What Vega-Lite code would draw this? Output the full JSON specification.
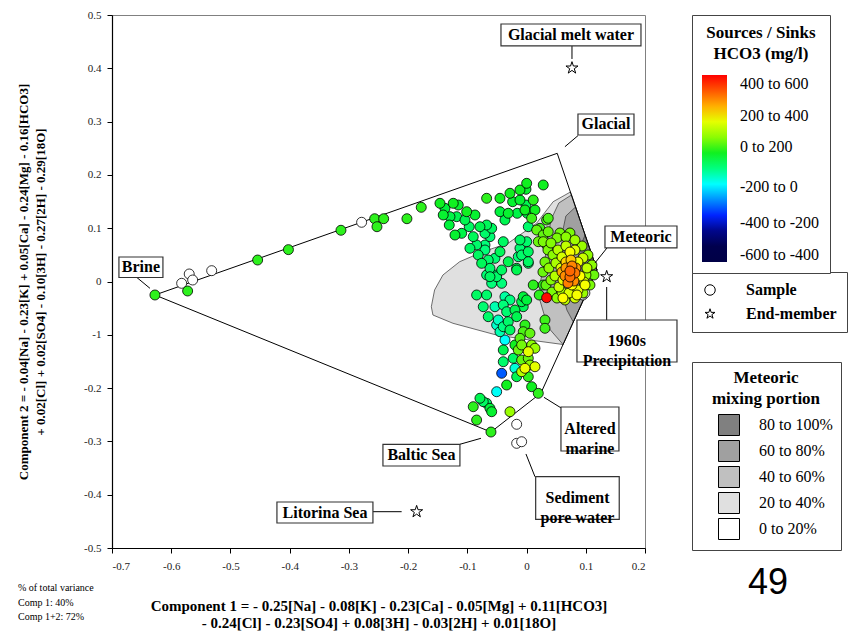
{
"$schema": "https://vega.github.io/schema/vega-lite/v6.json",
"width": 533, "height": 533,
"autosize": {"type": "none"},
"padding": {"left": 112, "top": 15, "right": 222, "bottom": 89},
"background": "white",
"config": {
  "view": {"stroke": "#808080", "strokeWidth": 1},
  "font": "Liberation Serif",
  "axis": {"grid": false, "domainColor": "black", "domainWidth": 1.2, "tickColor": "black", "tickSize": 5, "labelFont": "Liberation Serif", "labelFontSize": 11, "labelColor": "#222", "titleFont": "Liberation Serif", "titleFontWeight": "bold", "titleColor": "black"},
  "legend": {"labelFont": "Liberation Serif", "labelColor": "black", "titleFont": "Liberation Serif", "titleColor": "black", "titleFontWeight": "bold"}
},
"datasets": {
  "zones": [
    {"zone":"20 to 40%","i":0,"x":0.0741,"y":0.1679},{"zone":"20 to 40%","i":1,"x":0.0449,"y":0.1497},{"zone":"20 to 40%","i":2,"x":0.0168,"y":0.1092},{"zone":"20 to 40%","i":3,"x":-0.0312,"y":0.0717},{"zone":"20 to 40%","i":4,"x":-0.0735,"y":0.0559},{"zone":"20 to 40%","i":5,"x":-0.1130,"y":0.0371},{"zone":"20 to 40%","i":6,"x":-0.1412,"y":0.0122},{"zone":"20 to 40%","i":7,"x":-0.1553,"y":-0.0159},{"zone":"20 to 40%","i":8,"x":-0.1608,"y":-0.0473},{"zone":"20 to 40%","i":9,"x":-0.1581,"y":-0.0629},{"zone":"20 to 40%","i":10,"x":-0.1243,"y":-0.0784},{"zone":"20 to 40%","i":11,"x":-0.0509,"y":-0.1004},{"zone":"20 to 40%","i":12,"x":0.0055,"y":-0.1098},{"zone":"20 to 40%","i":13,"x":0.0616,"y":-0.1182},{"zone":"20 to 40%","i":14,"x":0.1189,"y":0.0216},{"zone":"20 to 40%","i":15,"x":0.0741,"y":0.1679},
    {"zone":"40 to 60%","i":0,"x":0.0758,"y":0.1623},{"zone":"40 to 60%","i":1,"x":0.0545,"y":0.1473},{"zone":"40 to 60%","i":2,"x":0.0410,"y":0.1154},{"zone":"40 to 60%","i":3,"x":0.0359,"y":0.0779},{"zone":"40 to 60%","i":4,"x":0.0308,"y":0.0403},{"zone":"40 to 60%","i":5,"x":0.0224,"y":-0.0066},{"zone":"40 to 60%","i":6,"x":0.0224,"y":-0.0347},{"zone":"40 to 60%","i":7,"x":0.0359,"y":-0.0854},{"zone":"40 to 60%","i":8,"x":0.0616,"y":-0.1182},{"zone":"40 to 60%","i":9,"x":0.1189,"y":0.0216},{"zone":"40 to 60%","i":10,"x":0.0758,"y":0.1623},
    {"zone":"60 to 80%","i":0,"x":0.0827,"y":0.1398},{"zone":"60 to 80%","i":1,"x":0.0664,"y":0.1229},{"zone":"60 to 80%","i":2,"x":0.0596,"y":0.0872},{"zone":"60 to 80%","i":3,"x":0.0596,"y":0.0310},{"zone":"60 to 80%","i":4,"x":0.0613,"y":-0.0253},{"zone":"60 to 80%","i":5,"x":0.0681,"y":-0.0535},{"zone":"60 to 80%","i":6,"x":0.0789,"y":-0.0760},{"zone":"60 to 80%","i":7,"x":0.1189,"y":0.0216},{"zone":"60 to 80%","i":8,"x":0.0827,"y":0.1398},
    {"zone":"80 to 100%","i":0,"x":0.0988,"y":0.0872},{"zone":"80 to 100%","i":1,"x":0.0884,"y":0.0591},{"zone":"80 to 100%","i":2,"x":0.0867,"y":0.0216},{"zone":"80 to 100%","i":3,"x":0.0901,"y":-0.0122},{"zone":"80 to 100%","i":4,"x":0.1020,"y":-0.0197},{"zone":"80 to 100%","i":5,"x":0.1189,"y":0.0216},{"zone":"80 to 100%","i":6,"x":0.0988,"y":0.0872}
  ],
  "outline": [
    {"i":0,"x":-0.6275,"y":-0.0253,"kind":"Sample"},{"i":1,"x":0.0518,"y":0.2405,"kind":"Sample"},{"i":2,"x":0.1189,"y":0.0216,"kind":"Sample"},{"i":3,"x":0.0243,"y":-0.2092,"kind":"Sample"},{"i":4,"x":-0.0601,"y":-0.2824,"kind":"Sample"},{"i":5,"x":-0.6275,"y":-0.0253,"kind":"Sample"}
  ],
  "white": [
    {"x":-0.5824,"y":-0.0034,"kind":"Sample"},{"x":-0.5696,"y":0.0141,"kind":"Sample"},{"x":-0.5638,"y":0.0028,"kind":"Sample"},{"x":-0.5317,"y":0.0203,"kind":"Sample"},{"x":-0.2785,"y":0.1111,"kind":"Sample"},{"x":-0.0167,"y":-0.2679,"kind":"Sample"},{"x":-0.0167,"y":-0.3036,"kind":"Sample"},{"x":-0.0083,"y":-0.3006,"kind":"Sample"},{"x":0.0952,"y":-0.0253,"kind":"Sample"},{"x":0.0985,"y":-0.0216,"kind":"Sample"}
  ],
  "samples": [
    {"x":-0.6275,"y":-0.0253,"hco3":110,"kind":"Sample"},{"x":-0.5723,"y":-0.0178,"hco3":110,"kind":"Sample"},{"x":-0.4541,"y":0.0403,"hco3":110,"kind":"Sample"},{"x":-0.4021,"y":0.0598,"hco3":110,"kind":"Sample"},{"x":-0.3134,"y":0.0961,"hco3":110,"kind":"Sample"},{"x":-0.2565,"y":0.1178,"hco3":110,"kind":"Sample"},{"x":-0.2413,"y":0.1178,"hco3":110,"kind":"Sample"},{"x":-0.2526,"y":0.1028,"hco3":110,"kind":"Sample"},{"x":-0.2020,"y":0.1178,"hco3":110,"kind":"Sample"},{"x":-0.1778,"y":0.1392,"hco3":110,"kind":"Sample"},
    {"x":-0.1462,"y":0.1467,"hco3":100,"kind":"Sample"},{"x":-0.1378,"y":0.1373,"hco3":80,"kind":"Sample"},{"x":-0.1407,"y":0.1248,"hco3":90,"kind":"Sample"},{"x":-0.1238,"y":0.1467,"hco3":100,"kind":"Sample"},{"x":-0.1153,"y":0.1435,"hco3":90,"kind":"Sample"},{"x":-0.1293,"y":0.1216,"hco3":70,"kind":"Sample"},{"x":-0.1305,"y":0.1060,"hco3":80,"kind":"Sample"},{"x":-0.1180,"y":0.1216,"hco3":60,"kind":"Sample"},{"x":-0.1209,"y":0.0872,"hco3":90,"kind":"Sample"},{"x":-0.1096,"y":0.0904,"hco3":70,"kind":"Sample"},
    {"x":-0.1011,"y":0.1310,"hco3":100,"kind":"Sample"},{"x":-0.1040,"y":0.1154,"hco3":60,"kind":"Sample"},{"x":-0.0871,"y":0.1248,"hco3":90,"kind":"Sample"},{"x":-0.0968,"y":0.1028,"hco3":40,"kind":"Sample"},{"x":-0.0900,"y":0.0841,"hco3":50,"kind":"Sample"},{"x":-0.0956,"y":0.0623,"hco3":40,"kind":"Sample"},{"x":-0.0843,"y":0.0685,"hco3":30,"kind":"Sample"},{"x":-0.0787,"y":0.1028,"hco3":60,"kind":"Sample"},{"x":-0.0674,"y":0.1060,"hco3":50,"kind":"Sample"},{"x":-0.0702,"y":0.0904,"hco3":30,"kind":"Sample"},
    {"x":-0.0589,"y":0.0998,"hco3":40,"kind":"Sample"},{"x":-0.0674,"y":0.1561,"hco3":110,"kind":"Sample"},{"x":-0.0702,"y":0.0685,"hco3":10,"kind":"Sample"},{"x":-0.0618,"y":0.0841,"hco3":20,"kind":"Sample"},{"x":-0.0816,"y":0.0497,"hco3":40,"kind":"Sample"},{"x":-0.0702,"y":0.0591,"hco3":10,"kind":"Sample"},{"x":-0.0647,"y":0.0403,"hco3":30,"kind":"Sample"},{"x":-0.0758,"y":0.0341,"hco3":50,"kind":"Sample"},{"x":-0.0618,"y":0.0248,"hco3":30,"kind":"Sample"},{"x":-0.0534,"y":0.0435,"hco3":20,"kind":"Sample"},
    {"x":-0.0449,"y":0.1561,"hco3":100,"kind":"Sample"},{"x":-0.0449,"y":0.1310,"hco3":80,"kind":"Sample"},{"x":-0.0309,"y":0.1280,"hco3":90,"kind":"Sample"},{"x":-0.0365,"y":0.1154,"hco3":60,"kind":"Sample"},{"x":-0.0280,"y":0.1655,"hco3":100,"kind":"Sample"},{"x":-0.0235,"y":0.1497,"hco3":90,"kind":"Sample"},{"x":-0.0111,"y":0.1717,"hco3":100,"kind":"Sample"},{"x":-0.0111,"y":0.1529,"hco3":90,"kind":"Sample"},{"x":0.0002,"y":0.1842,"hco3":100,"kind":"Sample"},{"x":-0.0010,"y":0.1730,"hco3":90,"kind":"Sample"},
    {"x":0.0113,"y":0.1529,"hco3":110,"kind":"Sample"},{"x":-0.0010,"y":0.1435,"hco3":60,"kind":"Sample"},{"x":-0.0157,"y":0.1280,"hco3":70,"kind":"Sample"},{"x":0.0282,"y":0.1811,"hco3":100,"kind":"Sample"},{"x":0.0012,"y":0.1280,"hco3":60,"kind":"Sample"},{"x":0.0086,"y":0.1186,"hco3":120,"kind":"Sample"},{"x":0.0029,"y":0.1028,"hco3":30,"kind":"Sample"},{"x":0.0171,"y":0.0966,"hco3":150,"kind":"Sample"},{"x":0.0339,"y":0.1154,"hco3":130,"kind":"Sample"},{"x":0.0282,"y":0.0872,"hco3":150,"kind":"Sample"},
    {"x":0.0366,"y":0.0934,"hco3":160,"kind":"Sample"},{"x":-0.0111,"y":0.0779,"hco3":40,"kind":"Sample"},{"x":0.0002,"y":0.0747,"hco3":30,"kind":"Sample"},{"x":-0.0111,"y":0.0623,"hco3":20,"kind":"Sample"},{"x":-0.0140,"y":0.0465,"hco3":10,"kind":"Sample"},{"x":-0.0083,"y":0.0497,"hco3":30,"kind":"Sample"},{"x":0.0029,"y":0.0341,"hco3":40,"kind":"Sample"},{"x":-0.0393,"y":0.0747,"hco3":40,"kind":"Sample"},{"x":-0.0449,"y":0.0559,"hco3":50,"kind":"Sample"},{"x":-0.0309,"y":0.0371,"hco3":60,"kind":"Sample"},
    {"x":-0.0167,"y":0.0248,"hco3":60,"kind":"Sample"},{"x":-0.0420,"y":0.0216,"hco3":40,"kind":"Sample"},{"x":-0.0618,"y":0.0090,"hco3":40,"kind":"Sample"},{"x":-0.0505,"y":0.0090,"hco3":30,"kind":"Sample"},{"x":0.0282,"y":0.0747,"hco3":180,"kind":"Sample"},{"x":0.0339,"y":0.0685,"hco3":170,"kind":"Sample"},{"x":0.0198,"y":0.0747,"hco3":160,"kind":"Sample"},{"x":-0.0027,"y":0.1342,"hco3":100,"kind":"Sample"},{"x":0.0142,"y":0.1342,"hco3":100,"kind":"Sample"},{"x":0.0366,"y":0.1186,"hco3":130,"kind":"Sample"},
    {"x":0.0226,"y":0.0998,"hco3":120,"kind":"Sample"},{"x":0.0029,"y":0.0559,"hco3":40,"kind":"Sample"},{"x":0.0029,"y":0.0371,"hco3":40,"kind":"Sample"},{"x":-0.0056,"y":-0.0473,"hco3":50,"kind":"Sample"},
    {"x":-0.0674,"y":0.0122,"hco3":20,"kind":"Sample"},{"x":-0.0505,"y":0.0122,"hco3":20,"kind":"Sample"},{"x":-0.0167,"y":0.0216,"hco3":60,"kind":"Sample"},{"x":-0.0589,"y":-0.0034,"hco3":10,"kind":"Sample"},{"x":-0.0420,"y":-0.0034,"hco3":10,"kind":"Sample"},{"x":-0.0843,"y":-0.0253,"hco3":40,"kind":"Sample"},{"x":-0.0674,"y":-0.0253,"hco3":30,"kind":"Sample"},{"x":-0.0365,"y":-0.0285,"hco3":-20,"kind":"Sample"},{"x":-0.0280,"y":-0.0347,"hco3":0,"kind":"Sample"},{"x":-0.0056,"y":-0.0285,"hco3":80,"kind":"Sample"},
    {"x":0.0002,"y":-0.0347,"hco3":80,"kind":"Sample"},{"x":-0.0083,"y":-0.0379,"hco3":60,"kind":"Sample"},{"x":0.0113,"y":-0.0066,"hco3":110,"kind":"Sample"},{"x":0.0282,"y":-0.0066,"hco3":110,"kind":"Sample"},{"x":0.0214,"y":-0.0253,"hco3":110,"kind":"Sample"},{"x":-0.0731,"y":-0.0473,"hco3":20,"kind":"Sample"},{"x":-0.0534,"y":-0.0473,"hco3":-30,"kind":"Sample"},{"x":-0.0393,"y":-0.0441,"hco3":10,"kind":"Sample"},{"x":-0.0336,"y":-0.0567,"hco3":20,"kind":"Sample"},{"x":-0.0196,"y":-0.0535,"hco3":60,"kind":"Sample"},
    {"x":-0.0167,"y":-0.0660,"hco3":60,"kind":"Sample"},{"x":-0.0647,"y":-0.0660,"hco3":30,"kind":"Sample"},{"x":-0.0478,"y":-0.0722,"hco3":-40,"kind":"Sample"},{"x":-0.0309,"y":-0.0754,"hco3":30,"kind":"Sample"},{"x":-0.0505,"y":-0.0816,"hco3":-50,"kind":"Sample"},{"x":-0.0393,"y":-0.0848,"hco3":0,"kind":"Sample"},{"x":-0.0280,"y":-0.0910,"hco3":40,"kind":"Sample"},{"x":-0.0027,"y":-0.0816,"hco3":110,"kind":"Sample"},{"x":-0.0056,"y":-0.0942,"hco3":130,"kind":"Sample"},{"x":0.0057,"y":-0.0972,"hco3":150,"kind":"Sample"},
    {"x":0.0311,"y":-0.0722,"hco3":120,"kind":"Sample"},{"x":0.0311,"y":-0.0878,"hco3":120,"kind":"Sample"},{"x":-0.0449,"y":-0.0942,"hco3":-30,"kind":"Sample"},{"x":-0.0365,"y":-0.1098,"hco3":-100,"kind":"Sample"},{"x":-0.0111,"y":-0.1066,"hco3":140,"kind":"Sample"},{"x":-0.0083,"y":-0.1191,"hco3":170,"kind":"Sample"},{"x":0.0086,"y":-0.1191,"hco3":200,"kind":"Sample"},{"x":0.0142,"y":-0.1253,"hco3":220,"kind":"Sample"},{"x":0.0029,"y":-0.1317,"hco3":300,"kind":"Sample"},{"x":-0.0140,"y":-0.1285,"hco3":160,"kind":"Sample"},
    {"x":-0.0196,"y":-0.1191,"hco3":100,"kind":"Sample"},{"x":-0.0393,"y":-0.1285,"hco3":60,"kind":"Sample"},{"x":-0.0225,"y":-0.1441,"hco3":40,"kind":"Sample"},{"x":-0.0393,"y":-0.1505,"hco3":30,"kind":"Sample"},{"x":-0.0083,"y":-0.1473,"hco3":150,"kind":"Sample"},{"x":0.0029,"y":-0.1441,"hco3":160,"kind":"Sample"},{"x":0.0057,"y":-0.1567,"hco3":200,"kind":"Sample"},{"x":0.0142,"y":-0.1599,"hco3":300,"kind":"Sample"},{"x":-0.0027,"y":-0.1629,"hco3":310,"kind":"Sample"},{"x":-0.0083,"y":-0.1692,"hco3":250,"kind":"Sample"},
    {"x":-0.0196,"y":-0.1629,"hco3":-60,"kind":"Sample"},{"x":-0.0167,"y":-0.1786,"hco3":60,"kind":"Sample"},{"x":0.0029,"y":-0.1786,"hco3":110,"kind":"Sample"},{"x":-0.0420,"y":-0.1722,"hco3":-260,"kind":"Sample"},{"x":-0.0336,"y":-0.1942,"hco3":100,"kind":"Sample"},{"x":-0.0505,"y":-0.2068,"hco3":-90,"kind":"Sample"},{"x":0.0086,"y":-0.1974,"hco3":100,"kind":"Sample"},{"x":0.0198,"y":-0.2098,"hco3":110,"kind":"Sample"},{"x":-0.0787,"y":-0.2191,"hco3":60,"kind":"Sample"},{"x":-0.0731,"y":-0.2255,"hco3":40,"kind":"Sample"},
    {"x":-0.0674,"y":-0.2285,"hco3":30,"kind":"Sample"},{"x":-0.0618,"y":-0.2379,"hco3":80,"kind":"Sample"},{"x":-0.0589,"y":-0.2443,"hco3":90,"kind":"Sample"},{"x":-0.0900,"y":-0.2349,"hco3":110,"kind":"Sample"},{"x":-0.0843,"y":-0.2599,"hco3":110,"kind":"Sample"},{"x":-0.0280,"y":-0.2443,"hco3":220,"kind":"Sample"},{"x":-0.0601,"y":-0.2824,"hco3":110,"kind":"Sample"},
    {"x":0.0361,"y":0.0591,"hco3":180,"kind":"Sample"},{"x":0.0311,"y":0.0366,"hco3":170,"kind":"Sample"},{"x":0.0277,"y":0.0178,"hco3":160,"kind":"Sample"},{"x":0.0328,"y":-0.0066,"hco3":150,"kind":"Sample"},{"x":0.0429,"y":-0.0197,"hco3":180,"kind":"Sample"},{"x":0.0513,"y":-0.0310,"hco3":200,"kind":"Sample"},{"x":0.0649,"y":-0.0347,"hco3":260,"kind":"Sample"},{"x":0.0817,"y":-0.0310,"hco3":280,"kind":"Sample"},{"x":0.0953,"y":-0.0216,"hco3":220,"kind":"Sample"},{"x":0.1071,"y":-0.0066,"hco3":180,"kind":"Sample"},
    {"x":0.1138,"y":0.0122,"hco3":160,"kind":"Sample"},{"x":0.1104,"y":0.0310,"hco3":200,"kind":"Sample"},{"x":0.1037,"y":0.0497,"hco3":210,"kind":"Sample"},{"x":0.0936,"y":0.0666,"hco3":220,"kind":"Sample"},{"x":0.0817,"y":0.0779,"hco3":230,"kind":"Sample"},{"x":0.0665,"y":0.0835,"hco3":200,"kind":"Sample"},{"x":0.0513,"y":0.0816,"hco3":180,"kind":"Sample"},{"x":0.0412,"y":0.0722,"hco3":190,"kind":"Sample"},{"x":0.0564,"y":0.0910,"hco3":170,"kind":"Sample"},{"x":0.0733,"y":0.0910,"hco3":180,"kind":"Sample"},
    {"x":0.0446,"y":0.0497,"hco3":200,"kind":"Sample"},{"x":0.0378,"y":0.0253,"hco3":210,"kind":"Sample"},{"x":0.0412,"y":0.0028,"hco3":190,"kind":"Sample"},{"x":0.0598,"y":-0.0197,"hco3":240,"kind":"Sample"},{"x":0.1003,"y":0.0122,"hco3":230,"kind":"Sample"},
    {"x":0.0530,"y":0.0591,"hco3":250,"kind":"Sample"},{"x":0.0665,"y":0.0666,"hco3":260,"kind":"Sample"},{"x":0.0817,"y":0.0591,"hco3":290,"kind":"Sample"},{"x":0.0953,"y":0.0441,"hco3":270,"kind":"Sample"},{"x":0.1020,"y":0.0253,"hco3":260,"kind":"Sample"},{"x":0.0970,"y":-0.0009,"hco3":280,"kind":"Sample"},{"x":0.0868,"y":-0.0159,"hco3":300,"kind":"Sample"},{"x":0.0716,"y":-0.0216,"hco3":290,"kind":"Sample"},{"x":0.0547,"y":-0.0103,"hco3":270,"kind":"Sample"},{"x":0.0480,"y":0.0103,"hco3":250,"kind":"Sample"},
    {"x":0.0496,"y":0.0347,"hco3":240,"kind":"Sample"},{"x":0.0598,"y":0.0460,"hco3":280,"kind":"Sample"},{"x":0.0733,"y":0.0553,"hco3":320,"kind":"Sample"},{"x":0.0868,"y":0.0366,"hco3":310,"kind":"Sample"},{"x":0.0902,"y":0.0103,"hco3":330,"kind":"Sample"},{"x":0.0767,"y":-0.0066,"hco3":330,"kind":"Sample"},{"x":0.0615,"y":0.0028,"hco3":300,"kind":"Sample"},{"x":0.0581,"y":0.0253,"hco3":290,"kind":"Sample"},{"x":0.0615,"y":-0.0310,"hco3":330,"kind":"Sample"},{"x":0.0851,"y":-0.0253,"hco3":320,"kind":"Sample"},
    {"x":0.0987,"y":-0.0066,"hco3":320,"kind":"Sample"},
    {"x":0.0665,"y":0.0253,"hco3":420,"kind":"Sample"},{"x":0.0767,"y":0.0291,"hco3":440,"kind":"Sample"},{"x":0.0817,"y":0.0159,"hco3":460,"kind":"Sample"},{"x":0.0733,"y":0.0084,"hco3":470,"kind":"Sample"},{"x":0.0649,"y":0.0103,"hco3":430,"kind":"Sample"},{"x":0.0699,"y":-0.0028,"hco3":450,"kind":"Sample"},{"x":0.0800,"y":0.0009,"hco3":430,"kind":"Sample"},{"x":0.0598,"y":0.0178,"hco3":400,"kind":"Sample"},{"x":0.0733,"y":0.0197,"hco3":480,"kind":"Sample"},{"x":0.0834,"y":0.0253,"hco3":420,"kind":"Sample"},
    {"x":0.0750,"y":0.0403,"hco3":380,"kind":"Sample"},{"x":0.0665,"y":0.0366,"hco3":370,"kind":"Sample"},
    {"x":0.0339,"y":-0.0304,"hco3":590,"kind":"Sample"}
  ],
  "stars": [
    {"x":0.0767,"y":0.4006,"kind":"End-member"},{"x":0.1353,"y":0.0090,"kind":"End-member"},{"x":-0.1856,"y":-0.4319,"kind":"End-member"}
  ],
  "annots": [
    {"label":"Glacial melt water","tx":0.0750,"ty":0.4625,"bx1":-0.0432,"bx2":0.1932,"by1":0.4831,"by2":0.4419,"lx1":0.0767,"ly1":0.4419,"lx2":0.0767,"ly2":0.4175},
    {"label":"Glacial","tx":0.1341,"ty":0.2946,"bx1":0.0868,"bx2":0.1814,"by1":0.3143,"by2":0.2749,"lx1":0.0868,"ly1":0.2736,"lx2":0.0648,"ly2":0.2529},
    {"label":"Meteoric","tx":0.1932,"ty":0.0835,"bx1":0.1324,"bx2":0.2540,"by1":0.1041,"by2":0.0629,"lx1":0.1358,"ly1":0.0629,"lx2":0.1155,"ly2":0.0347},
    {"label":"Brine","tx":-0.6511,"ty":0.0272,"bx1":-0.6883,"bx2":-0.6140,"by1":0.0460,"by2":0.0075,"lx1":-0.6584,"ly1":0.0079,"lx2":-0.6359,"ly2":-0.0128},
    {"label":"1960s\nPrecipitation","tx":0.1695,"ty":-0.1116,"bx1":0.0851,"bx2":0.2540,"by1":-0.0722,"by2":-0.1510,"lx1":0.1353,"ly1":-0.0103,"lx2":0.1353,"ly2":-0.0722},
    {"label":"Altered\nmarine","tx":0.1071,"ty":-0.2767,"bx1":0.0581,"bx2":0.1560,"by1":-0.2355,"by2":-0.3180,"lx1":0.0593,"ly1":-0.2379,"lx2":0.0294,"ly2":-0.2173},
    {"label":"Baltic Sea","tx":-0.1775,"ty":-0.3255,"bx1":-0.2425,"bx2":-0.1125,"by1":-0.3054,"by2":-0.3462,"lx1":-0.1125,"ly1":-0.3054,"lx2":-0.0770,"ly2":-0.2942},
    {"label":"Sediment\npore water","tx":0.0860,"ty":-0.4062,"bx1":0.0154,"bx2":0.1565,"by1":-0.3662,"by2":-0.4462,"lx1":-0.0010,"ly1":-0.3236,"lx2":0.0142,"ly2":-0.3662},
    {"label":"Litorina Sea","tx":-0.3404,"ty":-0.4334,"bx1":-0.4215,"bx2":-0.2594,"by1":-0.4137,"by2":-0.4531,"lx1":-0.2594,"ly1":-0.4319,"lx2":-0.2109,"ly2":-0.4319}
  ],
  "note": [{"t":"% of total variance\nComp 1: 40%\nComp 1+2: 72%","x":-0.8588,"y":-0.5657}],
  "page": [{"t":"49","x":0.4076,"y":-0.5657}]
},
"layer": [
  {
    "data": {"name": "zones"},
    "mark": {"type": "line", "filled": true, "stroke": "#333", "strokeWidth": 0.7},
    "encoding": {
      "x": {"field": "x", "type": "quantitative", "scale": {"domain": [-0.7, 0.2], "nice": false, "zero": false},
        "axis": {"values": [-0.7,-0.6,-0.5,-0.4,-0.3,-0.2,-0.1,0,0.1,0.2], "labelExpr": "abs(datum.value) < 1e-9 ? '0' : (datum.value < 0 ? '-' : '') + format(abs(datum.value), '.1f')", "labelPadding": 7, "title": ["Component 1 = - 0.25[Na] - 0.08[K] - 0.23[Ca] - 0.05[Mg] + 0.11[HCO3]", "- 0.24[Cl] - 0.23[SO4] + 0.08[3H] - 0.03[2H] + 0.01[18O]"], "titleFontSize": 15, "titleLineHeight": 17, "titlePadding": 27}},
      "y": {"field": "y", "type": "quantitative", "scale": {"domain": [-0.5, 0.5], "nice": false, "zero": false},
        "axis": {"values": [-0.5,-0.4,-0.3,-0.2,-0.1,0,0.1,0.2,0.3,0.4,0.5], "labelExpr": "abs(datum.value + 0.1) < 1e-9 ? '-1' : abs(datum.value) < 1e-9 ? '0' : (datum.value < 0 ? '-' : '') + format(abs(datum.value), '.1f')", "labelPadding": 6, "title": ["Component 2 = - 0.04[Na] - 0.23[K] + 0.05[Ca] - 0.24[Mg] - 0.16[HCO3]", "+ 0.02[Cl] + 0.02[SO4] - 0.10[3H] - 0.27[2H] - 0.29[18O]"], "titleFontSize": 13, "titleLineHeight": 17, "titlePadding": 36}},
      "color": {"field": "zone", "type": "nominal",
        "scale": {"domain": ["80 to 100%", "60 to 80%", "40 to 60%", "20 to 40%", "0 to 20%"], "range": ["#808080", "#a0a0a0", "#c0c0c0", "#e0e0e0", "#ffffff"]},
        "legend": {"title": ["Meteoric", "mixing portion"], "orient": "none", "legendX": 580, "legendY": 347, "padding": 8, "strokeColor": "#444", "fillColor": "white", "titleAnchor": "middle", "titleFontSize": 17, "titleLineHeight": 21, "titlePadding": 6, "symbolType": "square", "symbolSize": 441, "symbolStrokeColor": "black", "symbolStrokeWidth": 1, "symbolOffset": 18, "rowPadding": 0, "labelFontSize": 16, "labelOffset": 19, "labelExpr": "datum.label + '\u00a0\u00a0\u00a0\u00a0'",
          "encode": {"symbols": {"update": {"fill": {"scale": "color", "field": "value"}, "stroke": {"value": "black"}, "strokeWidth": {"value": 1}, "opacity": {"value": 1}}}}}},
      "order": {"field": "i", "type": "quantitative"}
    }
  },
  {
    "data": {"name": "outline"},
    "mark": {"type": "line", "strokeWidth": 1},
    "encoding": {
      "x": {"field": "x", "type": "quantitative", "scale": {"domain": [-0.7, 0.2], "nice": false, "zero": false}},
      "y": {"field": "y", "type": "quantitative", "scale": {"domain": [-0.5, 0.5], "nice": false, "zero": false}},
      "order": {"field": "i", "type": "quantitative"},
      "stroke": {"field": "kind", "type": "nominal",
        "scale": {"domain": ["Sample", "End-member"], "range": ["black", "black"]},
        "legend": {"title": null, "orient": "none", "legendX": 580, "legendY": 257, "padding": 10, "strokeColor": "#444", "fillColor": "white", "rowPadding": 8, "symbolType": "circle", "symbolSize": 110, "symbolFillColor": "white", "symbolStrokeColor": "black", "symbolStrokeWidth": 1, "labelFontSize": 16, "labelFontWeight": "bold", "labelOffset": 28, "labelExpr": "datum.label + '\u00a0\u00a0\u00a0\u00a0\u00a0\u00a0\u00a0'",
          "encode": {"symbols": {"update": {"shape": {"signal": "datum.value === 'Sample' ? 'circle' : 'M0,-1L0.2245,-0.309L0.951,-0.309L0.3633,0.118L0.5878,0.809L0,0.382L-0.5878,0.809L-0.3633,0.118L-0.951,-0.309L-0.2245,-0.309Z'"}, "size": {"value": 110}, "fill": {"value": "white"}, "stroke": {"value": "black"}, "strokeWidth": {"value": 1}, "opacity": {"value": 1}}}}}}
    }
  },
  {
    "data": {"name": "white"},
    "mark": {"type": "point", "filled": true, "fill": "white", "stroke": "black", "strokeWidth": 0.8, "size": 100, "opacity": 1},
    "encoding": {
      "x": {"field": "x", "type": "quantitative", "scale": {"domain": [-0.7, 0.2], "nice": false, "zero": false}},
      "y": {"field": "y", "type": "quantitative", "scale": {"domain": [-0.5, 0.5], "nice": false, "zero": false}},
      "shape": {"field": "kind", "type": "nominal",
        "scale": {"domain": ["Sample", "End-member"], "range": ["circle", "M0,-1L0.2245,-0.309L0.951,-0.309L0.3633,0.118L0.5878,0.809L0,0.382L-0.5878,0.809L-0.3633,0.118L-0.951,-0.309L-0.2245,-0.309Z"]},
        "legend": null}
    }
  },
  {
    "data": {"name": "samples"},
    "mark": {"type": "point", "filled": true, "stroke": "black", "strokeWidth": 0.8, "size": 100, "opacity": 1},
    "encoding": {
      "x": {"field": "x", "type": "quantitative", "scale": {"domain": [-0.7, 0.2], "nice": false, "zero": false}},
      "y": {"field": "y", "type": "quantitative", "scale": {"domain": [-0.5, 0.5], "nice": false, "zero": false}},
      "shape": {"field": "kind", "type": "nominal", "legend": null},
      "fill": {"field": "hco3", "type": "quantitative",
        "scale": {"domain": [-600, -450, -310, -200, -100, 0, 100, 230, 330, 430, 540, 600], "range": ["#000000", "#000050", "#0000ff", "#0090ff", "#00ffff", "#00ff80", "#10f020", "#a0ff00", "#ffff00", "#ff8c00", "#ff2000", "#ff0000"]},
        "legend": {"title": ["Sources / Sinks", "HCO3 (mg/l)"], "orient": "none", "legendX": 580, "legendY": 0, "type": "gradient", "direction": "vertical", "gradientLength": 187, "gradientThickness": 25, "gradientStrokeWidth": 0, "values": [542, 337, 138, -119, -350, -555], "labelExpr": "(datum.value > 400 ? '400 to 600' : datum.value > 200 ? '200 to 400' : datum.value > 0 ? '0 to 200' : datum.value > -200 ? '-200 to 0' : datum.value > -400 ? '-400 to -200' : '-600 to -400') + '\u00a0\u00a0\u00a0\u00a0\u00a0\u00a0\u00a0'", "labelOverlap": false, "padding": 10, "strokeColor": "#444", "fillColor": "white", "titleAnchor": "middle", "titleFontSize": 17, "titleLineHeight": 21, "titlePadding": 12, "labelFontSize": 16, "labelOffset": 13}},
      "order": {"field": "hco3", "type": "quantitative"}
    }
  },
  {
    "data": {"name": "stars"},
    "mark": {"type": "point", "filled": true, "fill": "white", "stroke": "black", "strokeWidth": 1, "size": 160, "opacity": 1},
    "encoding": {
      "x": {"field": "x", "type": "quantitative", "scale": {"domain": [-0.7, 0.2], "nice": false, "zero": false}},
      "y": {"field": "y", "type": "quantitative", "scale": {"domain": [-0.5, 0.5], "nice": false, "zero": false}},
      "shape": {"field": "kind", "type": "nominal", "legend": null}
    }
  },
  {
    "data": {"name": "annots"},
    "mark": {"type": "rule", "color": "black", "strokeWidth": 1},
    "encoding": {
      "x": {"field": "lx1", "type": "quantitative", "scale": {"domain": [-0.7, 0.2], "nice": false, "zero": false}},
      "y": {"field": "ly1", "type": "quantitative", "scale": {"domain": [-0.5, 0.5], "nice": false, "zero": false}},
      "x2": {"field": "lx2"},
      "y2": {"field": "ly2"}
    }
  },
  {
    "data": {"name": "annots"},
    "mark": {"type": "rect", "fill": "white", "stroke": "#333", "strokeWidth": 1.2},
    "encoding": {
      "x": {"field": "bx1", "type": "quantitative", "scale": {"domain": [-0.7, 0.2], "nice": false, "zero": false}},
      "y": {"field": "by1", "type": "quantitative", "scale": {"domain": [-0.5, 0.5], "nice": false, "zero": false}},
      "x2": {"field": "bx2"},
      "y2": {"field": "by2"}
    }
  },
  {
    "data": {"name": "annots"},
    "mark": {"type": "text", "font": "Liberation Serif", "fontWeight": "bold", "fontSize": 16, "lineBreak": "\n", "lineHeight": 20, "align": "center", "baseline": "middle", "color": "black"},
    "encoding": {
      "x": {"field": "tx", "type": "quantitative", "scale": {"domain": [-0.7, 0.2], "nice": false, "zero": false}},
      "y": {"field": "ty", "type": "quantitative", "scale": {"domain": [-0.5, 0.5], "nice": false, "zero": false}},
      "text": {"field": "label", "type": "nominal"}
    }
  },
  {
    "data": {"name": "note"},
    "mark": {"type": "text", "font": "Liberation Serif", "fontSize": 10, "lineBreak": "\n", "lineHeight": 14.5, "align": "left", "baseline": "top", "color": "black"},
    "encoding": {
      "x": {"field": "x", "type": "quantitative", "scale": {"domain": [-0.7, 0.2], "nice": false, "zero": false}},
      "y": {"field": "y", "type": "quantitative", "scale": {"domain": [-0.5, 0.5], "nice": false, "zero": false}},
      "text": {"field": "t", "type": "nominal"}
    }
  },
  {
    "data": {"name": "page"},
    "mark": {"type": "text", "font": "Liberation Sans", "fontSize": 36, "align": "center", "baseline": "middle", "color": "black"},
    "encoding": {
      "x": {"field": "x", "type": "quantitative", "scale": {"domain": [-0.7, 0.2], "nice": false, "zero": false}},
      "y": {"field": "y", "type": "quantitative", "scale": {"domain": [-0.5, 0.5], "nice": false, "zero": false}},
      "text": {"field": "t", "type": "nominal"}
    }
  }
]
}
